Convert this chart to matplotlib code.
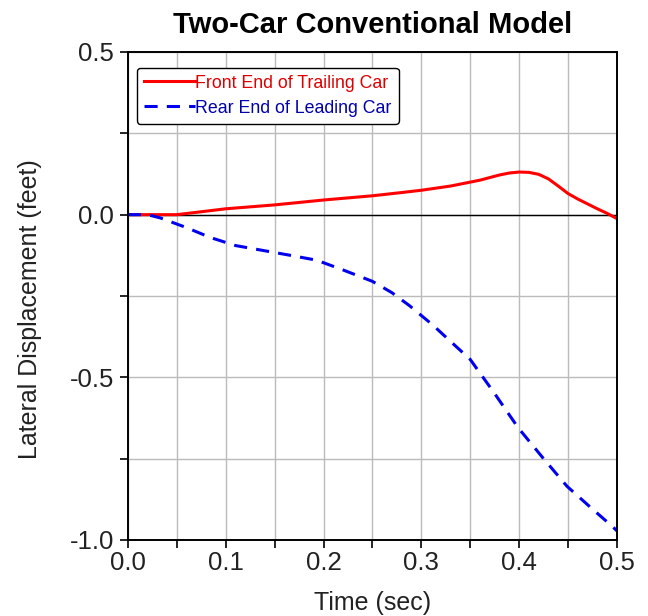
import numpy as np
import matplotlib.pyplot as plt
from matplotlib.ticker import MultipleLocator

# values
t_front = [0.0, 0.05, 0.10, 0.15, 0.20, 0.25, 0.28, 0.30, 0.33, 0.35, 0.36, 0.37, 0.38, 0.39, 0.40,
           0.41, 0.42, 0.43, 0.44, 0.45, 0.46, 0.47, 0.48, 0.49, 0.50]
y_front = [0.0, 0.0, 0.018, 0.03, 0.045, 0.058, 0.068, 0.075, 0.088, 0.10, 0.106, 0.114, 0.122, 0.128, 0.131,
           0.13, 0.124, 0.11, 0.088, 0.065, 0.048, 0.033, 0.018, 0.004, -0.012]

t_rear = [0.0, 0.02, 0.033, 0.06, 0.084, 0.11, 0.138, 0.166, 0.193, 0.22, 0.25, 0.27, 0.288, 0.312,
          0.33, 0.35, 0.375, 0.399, 0.425, 0.449, 0.475, 0.496, 0.50]
y_rear = [0.0, 0.0, -0.01, -0.04, -0.07, -0.095, -0.11, -0.125, -0.14, -0.17, -0.205, -0.24, -0.28, -0.34,
          -0.39, -0.445, -0.55, -0.655, -0.75, -0.835, -0.905, -0.96, -0.972]

plt.rcParams['font.family'] = ['Liberation Sans', 'DejaVu Sans']

fig = plt.figure(figsize=(6.48, 6.16), dpi=100)
ax = fig.add_axes([0.1975, 0.1234, 0.7545, 0.7922])

ax.plot(t_front, y_front, color='#ff0000', lw=2.2, label='Front End of Trailing Car')
ax.plot(t_rear, y_rear, color='#0000ee', lw=2.2, dashes=(4.3, 3), label='Rear End of Leading Car')
ax.axhline(0, color='black', lw=1.0, zorder=1)

ax.set_xlim(0, 0.5)
ax.set_ylim(-1.0, 0.5)
ax.xaxis.set_major_locator(MultipleLocator(0.1))
ax.xaxis.set_minor_locator(MultipleLocator(0.05))
ax.yaxis.set_major_locator(MultipleLocator(0.5))
ax.yaxis.set_minor_locator(MultipleLocator(0.25))
ax.xaxis.set_major_formatter(plt.FormatStrFormatter('%.1f'))
ax.yaxis.set_major_formatter(plt.FormatStrFormatter('%.1f'))
ax.grid(True, which='both', color='#bbbbbb', lw=1.0)
ax.set_axisbelow(True)
ax.tick_params(which='both', direction='out', length=6, width=1.2, labelsize=18.5,
               colors='black', labelcolor='#222222', pad=2)
ax.tick_params(axis='y', pad=4)
for s in ax.spines.values():
    s.set_linewidth(1.4)

ax.set_xlabel('Time (sec)', fontsize=18, color='#222222')
ax.set_ylabel('Lateral Displacement (feet)', fontsize=18, color='#222222')
ax.xaxis.set_label_coords(0.5, -0.1045)
ax.yaxis.set_label_coords(-0.176, 0.473)
ax.set_title('Two-Car Conventional Model', fontsize=21, fontweight='bold', pad=14)

leg = ax.legend(loc='upper left', bbox_to_anchor=(0.018, 0.968), fontsize=12.8, frameon=True,
                fancybox=True, edgecolor='black', framealpha=1, handlelength=2.9,
                handletextpad=0.0, borderpad=0.4, labelspacing=0.45, borderaxespad=0)
leg.get_frame().set_linewidth(1.0)
for txt, c in zip(leg.get_texts(), ['#dd0000', '#0000aa']):
    txt.set_color(c)

fig.savefig('out.png', dpi=100)
